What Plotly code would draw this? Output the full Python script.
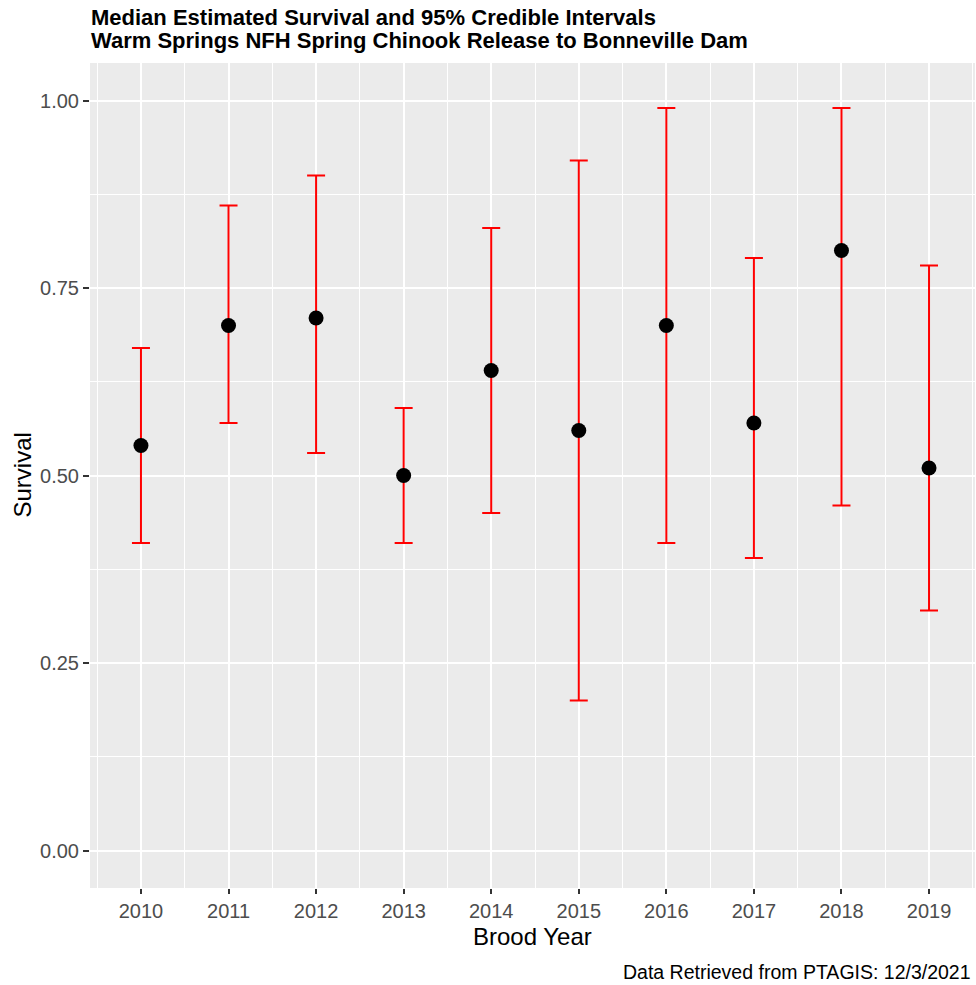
import plotly.graph_objects as go

years = [2010, 2011, 2012, 2013, 2014, 2015, 2016, 2017, 2018, 2019]
median_survival = [0.54, 0.70, 0.71, 0.50, 0.64, 0.56, 0.70, 0.57, 0.80, 0.51]
upper_ci = [0.67, 0.86, 0.90, 0.59, 0.83, 0.92, 0.99, 0.79, 0.99, 0.78]
lower_ci = [0.41, 0.57, 0.53, 0.41, 0.45, 0.20, 0.41, 0.39, 0.46, 0.32]
y_tick_vals = [0.0, 0.25, 0.5, 0.75, 1.0]
y_tick_text = ["0.00", "0.25", "0.50", "0.75", "1.00"]

err_plus = [u - m for u, m in zip(upper_ci, median_survival)]
err_minus = [m - l for m, l in zip(median_survival, lower_ci)]

FONT = "Liberation Sans, Arial, sans-serif"

fig = go.Figure()
fig.add_trace(go.Scatter(
    x=years, y=median_survival, mode="markers",
    marker=dict(size=1, color="rgba(0,0,0,0)"),
    error_y=dict(type="data", symmetric=False, array=err_plus, arrayminus=err_minus,
                 color="#FF0000", thickness=2, width=9),
    hoverinfo="skip", showlegend=False,
))
fig.add_trace(go.Scatter(
    x=years, y=median_survival, mode="markers",
    marker=dict(size=15, color="black", line=dict(width=0)),
    showlegend=False,
))

fig.update_layout(
    width=976, height=985,
    margin=dict(l=90, r=1, t=63, b=97),
    paper_bgcolor="white", plot_bgcolor="#EBEBEB",
    font=dict(family=FONT, color="#4D4D4D"),
    xaxis=dict(
        range=[2009.418, 2019.525], tickvals=years, ticktext=[str(y) for y in years],
        showgrid=True, gridcolor="white", gridwidth=2, zeroline=False,
        ticks="outside", ticklen=5, tickwidth=1.5, tickcolor="#333333",
        tickfont=dict(size=20, color="#4D4D4D", family=FONT),
        minor=dict(tick0=2009.5, dtick=1, showgrid=True, gridcolor="white", gridwidth=1, ticks=""),
        showline=False,
    ),
    yaxis=dict(
        range=[-0.05, 1.05], tickvals=y_tick_vals, ticktext=y_tick_text,
        showgrid=True, gridcolor="white", gridwidth=2, zeroline=False,
        ticks="outside", ticklen=6, tickwidth=1.5, tickcolor="#333333",
        tickfont=dict(size=20, color="#4D4D4D", family=FONT),
        minor=dict(tick0=0.125, dtick=0.25, showgrid=True, gridcolor="white", gridwidth=1, ticks=""),
        showline=False,
    ),
    annotations=[
        dict(text="<b>Median Estimated Survival and 95% Credible Intervals</b>",
             xref="paper", yref="paper", x=0, y=1, xanchor="left", yanchor="middle",
             yshift=46, xshift=-1, showarrow=False, font=dict(size=22, color="black", family=FONT)),
        dict(text="<b>Warm Springs NFH Spring Chinook Release to Bonneville Dam</b>",
             xref="paper", yref="paper", x=0, y=1, xanchor="left", yanchor="middle",
             yshift=23, xshift=-1, showarrow=False, font=dict(size=22, color="black", family=FONT)),
        dict(text="Brood Year", xref="paper", yref="paper", x=0.5, y=0,
             xanchor="center", yanchor="middle", yshift=-48, showarrow=False,
             font=dict(size=24, color="black", family=FONT)),
        dict(text="Survival", xref="paper", yref="paper", x=0, y=0.5, textangle=-90,
             xanchor="center", yanchor="middle", xshift=-68, showarrow=False,
             font=dict(size=24, color="black", family=FONT)),
        dict(text="Data Retrieved from PTAGIS: 12/3/2021", xref="paper", yref="paper",
             x=1, y=0, xanchor="right", yanchor="middle", yshift=-84, xshift=-2,
             showarrow=False, font=dict(size=19.5, color="black", family=FONT)),
    ],
)

fig.write_html("out.html", config={"displayModeBar": False},
               post_script="document.body.style.margin='0';document.body.style.overflow='hidden';")
